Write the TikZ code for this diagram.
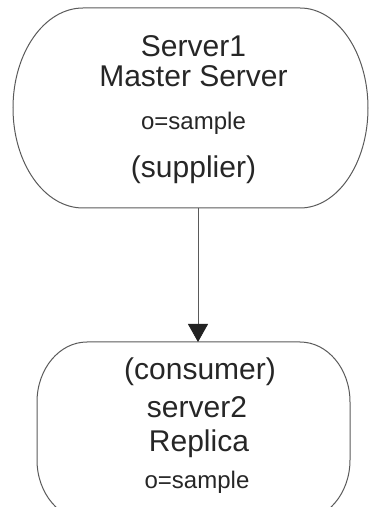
\documentclass[tikz,border=0pt]{standalone}
\usepackage{fontspec}
\setmainfont{Liberation Sans}
\usetikzlibrary{arrows.meta}
\definecolor{txt}{HTML}{262626}
\definecolor{ln}{HTML}{5A5A5A}
\definecolor{tip}{HTML}{222222}
\begin{document}
\begin{tikzpicture}[x=1pt,y=1pt,
  big/.style={font=\fontsize{30}{30}\selectfont, text=txt, anchor=base, inner sep=0pt},
  small/.style={font=\fontsize{24}{24}\selectfont, text=txt, anchor=base, inner sep=0pt},
  boxline/.style={draw=ln, line width=1pt},
  conn/.style={draw=ln, line width=0.8pt, -{Triangle[width=20pt,length=18pt,color=tip]}}]
\useasboundingbox (0,0) rectangle (370,507);
\clip (0,0) rectangle (370,507);
% top box
\draw[boxline] (83,499) -- (300,499)
  arc[start angle=90, end angle=-90, x radius=68, y radius=100]
  -- (83,299)
  arc[start angle=-90, end angle=-270, x radius=70, y radius=100] -- cycle;
% bottom box
\draw[boxline] (87,165) -- (300,165)
  arc[start angle=90, end angle=0, x radius=50, y radius=60]
  -- (350,47)
  arc[start angle=0, end angle=-90, x radius=50, y radius=60]
  -- (87,-13)
  arc[start angle=-90, end angle=-180, x radius=50, y radius=60]
  -- (37,105)
  arc[start angle=180, end angle=90, x radius=50, y radius=60] -- cycle;
% texts
\node[big] (s1) at (193.5,450) {Server1};
\node[big] (ms) at (193.5,420) {Master Server};
\node[small] (o1) at (193.5,377) {o=sample};
\node[big] (sup) at (193.5,329) {(supplier)};
\node[big] (con) at (200,127) {(consumer)};
\node[big] (s2) at (197,89) {server2};
\node[big] (rep) at (199,55) {Replica};
\node[small] (o2) at (197,19) {o=sample};
% connector
\coordinate (a1) at (198,299);
\coordinate (a2) at (198,165);
\draw[conn] (a1) -- (a2);
\end{tikzpicture}
\end{document}
